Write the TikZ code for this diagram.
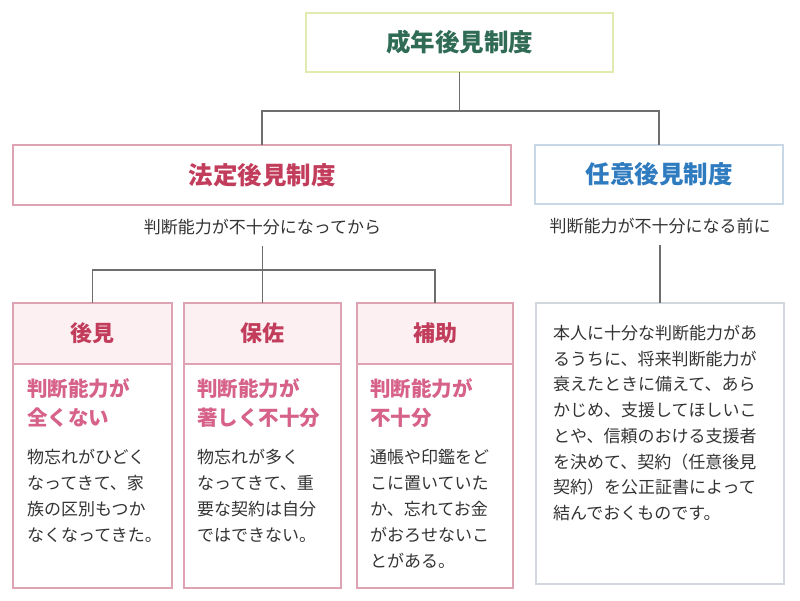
\documentclass[tikz,border=0pt]{standalone}
\usepackage{fontspec}
\setmainfont{Noto Sans CJK JP}
\definecolor{linegray}{HTML}{6E6E6E}
\definecolor{topborder}{HTML}{E2EAB0}
\definecolor{toptext}{HTML}{2F6B55}
\definecolor{pinkborder}{HTML}{DDA3B3}
\definecolor{pinktext}{HTML}{C23D5B}
\definecolor{pinksub}{HTML}{D6628A}
\definecolor{headfill}{HTML}{FCF0F3}
\definecolor{blueborder}{HTML}{C8D8E6}
\definecolor{bluetext}{HTML}{2F7BBF}
\definecolor{bodytext}{HTML}{333333}
\definecolor{grayborder}{HTML}{D2D8DE}
\tikzset{
  conn/.style={draw=linegray, line width=1.3pt},
  titlebox/.style={draw, line width=2pt, anchor=north west, inner sep=0pt, outer sep=0pt,
    font=\fontsize{24.5}{28}\selectfont\bfseries},
  headbox/.style={draw=pinkborder, fill=headfill, line width=2pt, anchor=north west,
    inner sep=0pt, outer sep=0pt, text=pinktext, font=\fontsize{22}{26}\selectfont\bfseries},
  bodybox/.style={draw=pinkborder, line width=2pt, anchor=north west, inner sep=0pt, outer sep=0pt},
  subtxt/.style={anchor=north west, inner sep=0pt, align=left, text=pinksub,
    font=\fontsize{20.5}{29}\selectfont\bfseries},
  bodytxt/.style={anchor=north west, inner sep=0pt, align=left, text=bodytext,
    font=\fontsize{17}{26}\selectfont},
  notetxt/.style={inner sep=0pt, text=bodytext, font=\fontsize{17}{20}\selectfont},
}
\begin{document}
\begin{tikzpicture}[x=1pt,y=-1pt]
\useasboundingbox (0,0) rectangle (800,601);
% top
\node[titlebox, draw=topborder, text=toptext, minimum width=307, minimum height=59] (seinen) at (306,13) {成年後見制度};
\node[titlebox, draw=pinkborder, text=pinktext, minimum width=498, minimum height=60] (hotei) at (13,145) {法定後見制度};
\node[titlebox, draw=blueborder, text=bluetext, minimum width=248, minimum height=59] (nini) at (535,145) {任意後見制度};
% small boxes
\node[bodybox, minimum width=159, minimum height=285] (koken) at (13,303) {};
\node[headbox, minimum width=159, minimum height=61] (kokenh) at (13,303) {後見};
\node[bodybox, minimum width=157, minimum height=285] (hosa) at (184,303) {};
\node[headbox, minimum width=157, minimum height=61] (hosah) at (184,303) {保佐};
\node[bodybox, minimum width=156, minimum height=285] (hojo) at (357,303) {};
\node[headbox, minimum width=156, minimum height=61] (hojoh) at (357,303) {補助};
\node[draw=grayborder, line width=2pt, anchor=north west, inner sep=0pt, outer sep=0pt, minimum width=248, minimum height=281] (honnin) at (536,303) {};
% notes
\node[notetxt] (hoteinote) at (hosah.north |- 0,227) {判断能力が不十分になってから};
\node[notetxt] (nininote) at (honnin.north |- 0,226) {判断能力が不十分になる前に};
% texts
\node[subtxt] (kokens) at (27,378) {判断能力が\\全くない};
\node[subtxt] (hosas) at (197,378) {判断能力が\\著しく不十分};
\node[subtxt] (hojos) at (370,378) {判断能力が\\不十分};
\node[bodytxt] (kokenb) at (27,449) {物忘れがひどく\\なってきて、家\\族の区別もつか\\なくなってきた。};
\node[bodytxt] (hosab) at (197,449) {物忘れが多く\\なってきて、重\\要な契約は自分\\ではできない。};
\node[bodytxt] (hojob) at (370,449) {通帳や印鑑をど\\こに置いていた\\か、忘れてお金\\がおろせないこ\\とがある。};
\node[bodytxt, font=\fontsize{17}{25.7}\selectfont] (honninb) at (553,325) {本人に十分な判断能力があ\\るうちに、将来判断能力が\\衰えたときに備えて、あら\\かじめ、支援してほしいこ\\とや、信頼のおける支援者\\を決めて、契約（任意後見\\契約）を公正証書によって\\結んでおくものです。};
% connectors
\coordinate (j1) at (seinen.south |- 0,111);
\coordinate (j2) at (hosah.north |- 0,270);
\draw[conn] (seinen.south) -- (j1);
\draw[conn] (hotei.north) |- (j1) -| (nini.north);
\draw[conn] ([yshift=-11pt]hoteinote.south) -- (j2);
\draw[conn] (kokenh.north) |- (j2) -| (hojoh.north);
\draw[conn] (j2) -- (hosah.north);
\draw[conn] ([yshift=-11pt]nininote.south) -- (honnin.north);
\end{tikzpicture}
\end{document}
